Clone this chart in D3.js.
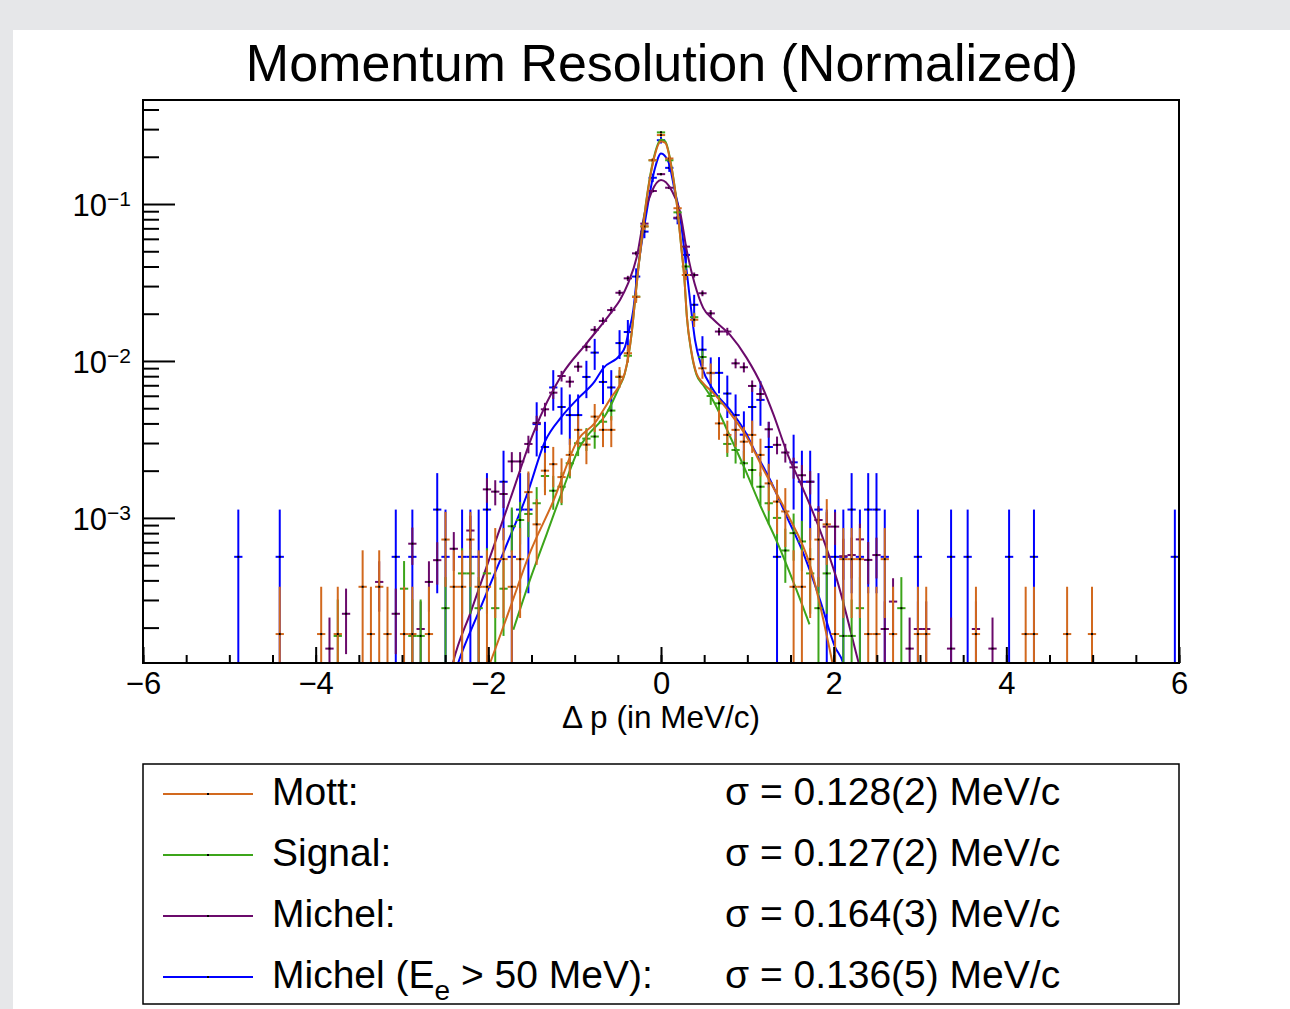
<!DOCTYPE html>
<html>
<head>
<meta charset="utf-8">
<script src="https://cdn.jsdelivr.net/npm/d3@7"></script>
<style>
  html, body { margin: 0; padding: 0; background: #e6e7e9; }
  svg { display: block; }
  text { font-family: "Liberation Sans", Arial, Helvetica, sans-serif; fill: #000; }
</style>
</head>
<body>
<svg id="chart" width="1290" height="1009"></svg>
<script>
// histogram binning: 125 bins on [-6, 6], bin j is centred at j * binWidth
const binWidth = 12 / 125;
const xDomain = [-6, 6];
const yDomain = [1.19e-4, 0.46];
const xMajorTicks = [-6, -4, -2, 0, 2, 4, 6];
const yDecades = [1e-3, 1e-2, 1e-1];

// Mott (normalised, entries used for the Poisson errors)
const mottEntries = 5480;
const mottBins = [-46, -41, -39, -36, -35, -34, -33, -31, -30, -28, -26, -25, -24, -23, -22, -21, -20, -19, -18, -17,
  -16, -15, -14, -13, -12, -11, -10, -9, -8, -7, -6, -5, -4, -3, -2, -1, 0, 1, 2, 3, 4, 5, 6, 7, 8, 9, 10, 11, 12, 13,
  14, 15, 16, 17, 18, 19, 20, 21, 22, 23, 24, 25, 26, 27, 28, 31, 32, 38, 44, 45, 49, 52];
const mottValues = [1.82e-4, 1.82e-4, 1.82e-4, 3.64e-4, 1.82e-4, 3.64e-4, 1.82e-4, 1.82e-4, 1.82e-4, 1.82e-4, 7.28e-4,
  3.64e-4, 3.64e-4, 7.28e-4, 3.64e-4, 3.64e-4, 5.46e-4, 5.46e-4, 3.64e-4, 5.46e-4,
  1.46e-3, 9.1e-4, 2.0e-3, 2.2e-3, 1.82e-3, 2.52e-3, 3.64e-3, 2.93e-3, 4.42e-3, 3.64e-3, 3.64e-3, 7.94e-3, 1.12e-2,
  2.56e-2, 7.2e-2, 0.19, 0.275, 0.195, 0.094, 0.0353, 0.0183, 8.98e-3, 8.4e-3, 4.0e-3, 3.38e-3, 3.64e-3, 3.06e-3,
  3.38e-3, 2.52e-3, 1.66e-3, 1.27e-3, 1.10e-3, 3.64e-4, 3.64e-4, 5.46e-4, 7.28e-4, 9.1e-4, 1.82e-4, 5.46e-4, 5.46e-4,
  5.46e-4, 1.82e-4, 1.82e-4, 5.46e-4, 1.82e-4, 1.82e-4, 1.82e-4, 1.82e-4, 1.82e-4, 1.82e-4, 1.82e-4, 1.82e-4];
const mottFitX = [-2.1, -1.98, -1.75, -1.52, -1.25, -0.96, -0.77, -0.57, -0.48, -0.42, -0.38, -0.34, -0.30, -0.26,
  -0.24, -0.17, -0.09, 0, 0.05, 0.12, 0.18, 0.24, 0.27, 0.30, 0.35, 0.41, 0.49, 0.61, 0.80, 0.99, 1.19, 1.46, 1.73, 1.96, 2.05];
const mottFitY = [8e-5, 1.19e-4, 2.65e-4, 5.96e-4, 1.27e-3, 3.16e-3, 4.0e-3, 5.93e-3, 7.0e-3, 8.35e-3, 1.06e-2, 1.5e-2,
  2.45e-2, 4.0e-2, 4.97e-2, 0.1034, 0.186, 0.25, 0.245, 0.172, 0.1034, 0.0497, 0.034, 0.0191, 0.0117, 8.35e-3, 7.21e-3,
  6.22e-3, 4.65e-3, 3.3e-3, 2.02e-3, 1.07e-3, 4.9e-4, 1.4e-4, 8e-5];

// Signal
const signalEntries = 11300;
const signalBins = [-39, -31, -30, -29, -26, -24, -23, -22, -21, -20, -19, -18, -17, -16, -15, -14, -13, -12, -11, -10,
  -9, -8, -7, -6, -5, -4, -3, -2, -1, 0, 1, 2, 3, 4, 5, 6, 7, 8, 9, 10, 11, 12, 13, 14, 15, 16, 17, 18, 19, 20, 22, 23, 24, 29];
const signalValues = [1.77e-4, 3.54e-4, 1.77e-4, 1.77e-4, 2.66e-4, 4.43e-4, 4.43e-4, 2.66e-4, 4.43e-4, 2.66e-4, 3.54e-4,
  8.85e-4, 9.7e-4, 1.06e-3, 1.24e-3, 1.85e-3, 1.49e-3, 1.58e-3, 2.23e-3, 2.99e-3,
  3.2e-3, 3.3e-3, 4.1e-3, 4.83e-3, 7.9e-3, 1.08e-2, 2.57e-2, 7.2e-2, 0.19, 0.286, 0.19, 0.0885, 0.040, 0.019, 0.0106,
  5.98e-3, 5.37e-3, 2.96e-3, 2.71e-3, 2.23e-3, 2.02e-3, 1.58e-3, 1.24e-3, 1.0e-3, 6.2e-4, 8.0e-4, 7.08e-4, 4.43e-4,
  2.66e-4, 4.43e-4, 1.77e-4, 1.77e-4, 2.66e-4, 2.66e-4];
const signalFitX = [-1.71, -1.52, -1.32, -1.13, -0.94, -0.86, -0.63, -0.48, -0.42, -0.38, -0.34, -0.30, -0.26, -0.24,
  -0.17, -0.09, 0, 0.05, 0.12, 0.18, 0.24, 0.27, 0.30, 0.35, 0.41, 0.49, 0.60, 0.80, 0.96, 1.15, 1.35, 1.55, 1.72];
const signalFitY = [1.94e-4, 4.0e-4, 8.0e-4, 1.55e-3, 2.84e-3, 3.3e-3, 4.65e-3, 6.9e-3, 8.3e-3, 1.05e-2, 1.5e-2, 2.45e-2,
  4.0e-2, 5.0e-2, 0.105, 0.19, 0.258, 0.25, 0.175, 0.104, 0.05, 0.034, 0.019, 0.0115, 8.2e-3, 7.0e-3, 5.65e-3, 3.3e-3,
  2.12e-3, 1.2e-3, 6.9e-4, 3.7e-4, 2.1e-4];

// Michel
const michelEntries = 20450;
const michelBins = [-40, -38, -34, -32, -30, -29, -28, -27, -25, -23, -21, -20, -19, -18, -17, -16, -15, -14, -13, -12,
  -11, -10, -9, -8, -7, -6, -5, -4, -3, -2, -1, 0, 1, 2, 3, 4, 5, 6, 7, 8, 9, 10, 11, 12, 13, 14, 15, 16, 17, 18, 19,
  20, 21, 22, 23, 24, 25, 26, 27, 28, 30, 31, 32, 35, 38, 40];
const michelValues = [1.47e-4, 2.45e-4, 3.91e-4, 2.45e-4, 6.85e-4, 1.96e-4, 3.91e-4, 5.38e-4, 6.36e-4, 8.31e-4, 1.52e-3,
  1.47e-3, 1.42e-3, 2.29e-3, 2.29e-3, 2.96e-3, 4.03e-3, 4.92e-3, 6.28e-3, 8.02e-3,
  7.38e-3, 9.2e-3, 1.23e-2, 1.58e-2, 1.80e-2, 2.11e-2, 2.72e-2, 3.36e-2, 4.85e-2, 7.5e-2, 0.121, 0.155, 0.127, 0.0818,
  0.0535, 0.0353, 0.027, 0.0201, 0.0154, 0.0154, 9.66e-3, 9.12e-3, 6.93e-3, 6.16e-3, 3.67e-3, 2.92e-3, 2.61e-3, 2.1e-3,
  1.87e-3, 1.70e-3, 9.7e-4, 8.8e-4, 8.8e-4, 5.7e-4, 5.8e-4, 7.3e-4, 5.4e-4, 5.8e-4, 1.96e-4, 2.93e-4, 1.47e-4, 1.96e-4,
  1.96e-4, 1.47e-4, 1.96e-4, 1.47e-4];
const michelFitX = [-2.5, -2.41, -2.2, -1.98, -1.75, -1.48, -1.15, -0.86, -0.57, -0.475, -0.38, -0.28, -0.185, -0.108, 0,
  0.12, 0.22, 0.30, 0.39, 0.49, 0.61, 0.80, 0.99, 1.17, 1.30, 1.46, 1.65, 1.84, 2.04, 2.29, 2.4];
const michelFitY = [7e-5, 1.19e-4, 2.55e-4, 5.65e-4, 1.3e-3, 3.46e-3, 8.15e-3, 1.3e-2, 2.06e-2, 2.45e-2, 3.13e-2, 4.62e-2,
  8.93e-2, 0.1197, 0.142, 0.1228, 0.0893, 0.050, 0.031, 0.0217, 0.0183, 0.01465, 0.0105, 6.9e-3, 4.6e-3, 2.6e-3, 1.51e-3,
  8.4e-4, 4.0e-4, 1.19e-4, 7e-5];

// Michel with E_e > 50 MeV
const michelHiEntries = 1770;
const michelHiBins = [-51, -46, -32, -30, -27, -26, -24, -23, -22, -21, -19, -18, -17, -16, -15, -14, -13, -12, -11, -10,
  -9, -8, -7, -6, -5, -4, -3, -2, -1, 0, 1, 2, 3, 4, 5, 6, 7, 8, 9, 10, 11, 12, 13, 14, 16, 17, 18, 19, 20, 21, 22, 23,
  24, 25, 26, 27, 31, 35, 37, 42, 45, 62];
const michelHiValues = [5.65e-4, 5.65e-4, 5.65e-4, 5.65e-4, 1.13e-3, 5.65e-4, 5.65e-4, 5.65e-4, 5.65e-4, 1.13e-3, 1.70e-3,
  5.65e-4, 1.13e-3, 1.13e-3, 3.96e-3, 2.83e-3, 6.78e-3, 5.09e-3, 4.52e-3, 4.52e-3,
  7.91e-3, 1.13e-2, 7.35e-3, 6.78e-3, 1.30e-2, 1.53e-2, 3.45e-2, 6.67e-2, 0.147, 0.255, 0.170, 0.081, 0.0474, 0.0228,
  0.0118, 8.36e-3, 8.4e-3, 6.2e-3, 4.52e-3, 3.39e-3, 5.09e-3, 5.65e-3, 2.83e-3, 5.65e-4, 2.26e-3, 1.70e-3, 1.70e-3,
  1.13e-3, 5.65e-4, 5.65e-4, 5.65e-4, 1.13e-3, 5.65e-4, 1.13e-3, 1.13e-3, 5.65e-4, 5.65e-4, 5.65e-4, 5.65e-4, 5.65e-4,
  5.65e-4, 5.65e-4];
const michelHiFitX = [-2.45, -2.35, -2.1, -1.8, -1.55, -1.34, -1.15, -0.96, -0.77, -0.67, -0.475, -0.417, -0.379, -0.321,
  -0.282, -0.166, -0.07, 0, 0.085, 0.162, 0.22, 0.278, 0.336, 0.394, 0.471, 0.606, 0.80, 0.993, 1.07, 1.263, 1.456,
  1.648, 1.842, 2.015, 2.11, 2.2];
const michelHiFitY = [8e-5, 1.19e-4, 2.6e-4, 6.5e-4, 1.42e-3, 3.1e-3, 4.42e-3, 5.78e-3, 7.38e-3, 8.98e-3, 1.09e-2, 1.23e-2,
  1.5e-2, 2.11e-2, 3.3e-2, 8.93e-2, 0.169, 0.21, 0.186, 0.1197, 0.085, 0.0462, 0.0245, 0.0136, 9.2e-3, 6.53e-3, 4.88e-3,
  3.4e-3, 2.78e-3, 1.75e-3, 1.02e-3, 5.96e-4, 3.0e-4, 1.51e-4, 1.19e-4, 7e-5];

const legendLabels = ['Mott:', 'Signal:', 'Michel:', 'Michel (E_{e} > 50 MeV):'];
const sigmaLabels = ['\u03c3 = 0.128(2) MeV/c', '\u03c3 = 0.127(2) MeV/c', '\u03c3 = 0.164(3) MeV/c', '\u03c3 = 0.136(5) MeV/c'];
const colors = ['#d2691e', '#3ca51a', '#6b0a6b', '#0000ff'];

const W = 1290, H = 1009;
const frame = {left: 143, right: 1179, top: 100, bottom: 663};
const font = '"Liberation Sans", Arial, Helvetica, sans-serif';

const svg = d3.select('#chart');
svg.append('rect').attr('width', W).attr('height', H).attr('fill', '#e6e7e9');
svg.append('rect').attr('x', 13).attr('y', 30).attr('width', W - 13).attr('height', H - 30).attr('fill', '#fff');

const x = d3.scaleLinear().domain(xDomain).range([frame.left, frame.right]);
const y = d3.scaleLog().domain(yDomain).range([frame.bottom, frame.top]);

svg.append('text')
    .attr('x', 662).attr('y', 81)
    .attr('text-anchor', 'middle')
    .style('font-size', '52px')
    .text('Momentum Resolution (Normalized)');

svg.append('defs').append('clipPath').attr('id', 'plotClip')
  .append('rect')
    .attr('x', frame.left).attr('y', frame.top)
    .attr('width', frame.right - frame.left).attr('height', frame.bottom - frame.top);

const plot = svg.append('g').attr('clip-path', 'url(#plotClip)');

const series = [
  {bins: michelHiBins, values: michelHiValues, entries: michelHiEntries, fitX: michelHiFitX, fitY: michelHiFitY, color: colors[3]},
  {bins: michelBins, values: michelValues, entries: michelEntries, fitX: michelFitX, fitY: michelFitY, color: colors[2]},
  {bins: signalBins, values: signalValues, entries: signalEntries, fitX: signalFitX, fitY: signalFitY, color: colors[1]},
  {bins: mottBins, values: mottValues, entries: mottEntries, fitX: mottFitX, fitY: mottFitY, color: colors[0]}
];

const fitLine = d3.line()
    .x(d => x(d[0]))
    .y(d => y(d[1]))
    .curve(d3.curveMonotoneX);

function drawHist(g, s) {
  const pts = s.bins.map((j, i) => {
    const v = s.values[i];
    const err = Math.sqrt(v / s.entries);
    return {c: j * binWidth, v: v, lo: v - err, hi: v + err};
  });

  const bars = g.append('g')
      .attr('stroke', s.color)
      .attr('stroke-width', 2);

  bars.selectAll('line.ey')
    .data(pts)
    .enter().append('line')
      .attr('class', 'ey')
      .attr('x1', d => x(d.c)).attr('x2', d => x(d.c))
      .attr('y1', d => d.lo > yDomain[0] ? y(d.lo) : frame.bottom + 3)
      .attr('y2', d => y(Math.min(d.hi, yDomain[1])));

  bars.selectAll('line.ex')
    .data(pts.filter(d => d.v > yDomain[0]))
    .enter().append('line')
      .attr('class', 'ex')
      .attr('x1', d => x(d.c - binWidth / 2)).attr('x2', d => x(d.c + binWidth / 2))
      .attr('y1', d => y(d.v)).attr('y2', d => y(d.v));

  g.selectAll('rect.mk')
    .data(pts.filter(d => d.v > yDomain[0]))
    .enter().append('rect')
      .attr('class', 'mk')
      .attr('x', d => x(d.c) - 1).attr('y', d => y(d.v) - 1)
      .attr('width', 2).attr('height', 2)
      .attr('fill', '#000');

  g.append('path')
      .datum(s.fitX.map((xv, i) => [xv, s.fitY[i]]))
      .attr('fill', 'none')
      .attr('stroke', s.color)
      .attr('stroke-width', 2)
      .attr('d', fitLine);
}

series.forEach(s => drawHist(plot.append('g'), s));

// x axis (ticks point inwards)
const xMinor = d3.range(-6, 6.001, 0.5);
svg.append('g')
    .attr('transform', `translate(0,${frame.bottom})`)
    .call(d3.axisBottom(x).tickValues(xMinor).tickSize(-8).tickFormat(''))
    .call(g => g.select('.domain').remove());

const xAxis = svg.append('g')
    .attr('transform', `translate(0,${frame.bottom})`)
    .call(d3.axisBottom(x).tickValues(xMajorTicks).tickSize(-16).tickPadding(9)
      .tickFormat(d => d < 0 ? '\u2212' + Math.abs(d) : String(d)));
xAxis.select('.domain').remove();
xAxis.selectAll('text').style('font-size', '31px').style('font-family', font);

svg.append('text')
    .attr('x', 661).attr('y', 728)
    .attr('text-anchor', 'middle')
    .style('font-size', '31.5px')
    .text('\u0394 p (in MeV/c)');

// y axis (log)
const yMinor = [];
[1e-4, 1e-3, 1e-2, 1e-1].forEach(dec => {
  for (let m = 2; m <= 9; m++) {
    const v = m * dec;
    if (v >= yDomain[0] && v <= yDomain[1]) yMinor.push(v);
  }
});
svg.append('g')
    .attr('transform', `translate(${frame.left},0)`)
    .call(d3.axisLeft(y).tickValues(yMinor).tickSize(-16).tickFormat(''))
    .call(g => g.select('.domain').remove());

const yAxis = svg.append('g')
    .attr('transform', `translate(${frame.left},0)`)
    .call(d3.axisLeft(y).tickValues(yDecades).tickSize(-32).tickPadding(12).tickFormat(''));
yAxis.select('.domain').remove();
yAxis.selectAll('.tick text').each(function(d) {
  const t = d3.select(this)
      .style('font-size', '31px')
      .style('font-family', font)
      .attr('dy', '0.36em');
  t.append('tspan').text('10');
  t.append('tspan')
      .attr('dy', '-0.48em')
      .style('font-size', '21px')
      .text('\u2212' + Math.round(-Math.log10(d)));
});

svg.selectAll('.tick line').attr('stroke', '#000').attr('stroke-width', 2);

// frame
svg.append('rect')
    .attr('x', frame.left).attr('y', frame.top)
    .attr('width', frame.right - frame.left).attr('height', frame.bottom - frame.top)
    .attr('fill', 'none').attr('stroke', '#000').attr('stroke-width', 2);

// legend
const legend = svg.append('g');
legend.append('rect')
    .attr('x', 143).attr('y', 764)
    .attr('width', 1036).attr('height', 240)
    .attr('fill', '#fff').attr('stroke', '#000').attr('stroke-width', 1.5);

legendLabels.forEach((label, i) => {
  const rowY = 794 + i * 61;
  legend.append('line')
      .attr('x1', 163).attr('x2', 253)
      .attr('y1', rowY).attr('y2', rowY)
      .attr('stroke', colors[i]).attr('stroke-width', 2);
  legend.append('rect')
      .attr('x', 207).attr('y', rowY - 1)
      .attr('width', 2).attr('height', 2)
      .attr('fill', '#000');

  const txt = legend.append('text')
      .attr('x', 272).attr('y', rowY + 11)
      .style('font-size', '39px');
  // "_{...}" marks a subscript, as in ROOT's TLatex
  const m = label.match(/^(.*)_\{(.*)\}(.*)$/);
  if (m) {
    txt.append('tspan').text(m[1]);
    txt.append('tspan').attr('dy', 12).style('font-size', '28px').text(m[2]);
    txt.append('tspan').attr('dy', -12).text(m[3]);
  } else {
    txt.text(label);
  }

  legend.append('text')
      .attr('x', 725).attr('y', rowY + 11)
      .style('font-size', '39px')
      .text(sigmaLabels[i]);
});
</script>
</body>
</html>
